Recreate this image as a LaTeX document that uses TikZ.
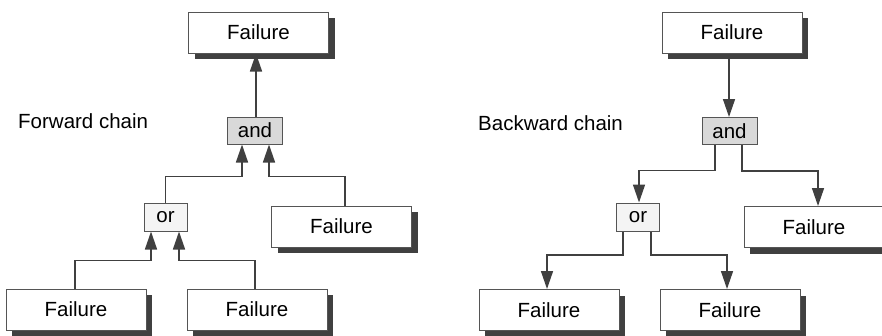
\documentclass[tikz,border=0pt]{standalone}
\usepackage{fontspec}
\setmainfont{Liberation Sans}
\usetikzlibrary{arrows.meta,shadows,calc}
\definecolor{linegray}{HTML}{404040}
\definecolor{framegray}{HTML}{555555}
\definecolor{andfill}{HTML}{D9D9D9}
\definecolor{orfill}{HTML}{F4F4F4}
\begin{document}
\begin{tikzpicture}[x=1pt,y=-1pt,
  font=\fontsize{20.5pt}{24pt}\selectfont,
  failbox/.style={draw=framegray, line width=1pt, fill=white, inner sep=0pt,
    minimum width=140pt, minimum height=41pt,
    drop shadow={shadow xshift=6pt, shadow yshift=-6pt, fill=linegray, opacity=1}},
  andbox/.style={draw=framegray, line width=1pt, fill=andfill, inner sep=0pt,
    minimum width=55pt, minimum height=27pt},
  orbox/.style={draw=framegray, line width=1pt, fill=orfill, inner sep=0pt,
    minimum width=43pt, minimum height=28pt},
  link/.style={draw=linegray, line width=1.5pt,
    -{Triangle[length=18pt,width=12pt]}},
  caption/.style={anchor=base west, inner sep=0pt}]
\useasboundingbox (0,0) rectangle (882,335);

% ---------- forward chain ----------
\node[caption] (fwd) at (18,128) {Forward chain};
\node[failbox] (ftop) at (258.5,32.5) {Failure};
\node[andbox]  (fand) at (255,130.5) {and};
\node[orbox]   (for)  at (165.5,217) {or};
\node[failbox] (fmid) at (341.5,226.5) {Failure};
\node[failbox] (fbl)  at (76,309.5) {Failure};
\node[failbox] (fbm)  at (257,309.5) {Failure};

% attachment points on the box edges
\coordinate (fa0) at ($(fand.north)+(1,0)$);
\coordinate (fa1) at ($(fand.south)+(-13,0)$);
\coordinate (fa2) at ($(fand.south)+(14,0)$);
\coordinate (fo1) at ($(for.south)+(-14.5,0)$);
\coordinate (fo2) at ($(for.south)+(13.5,0)$);
\coordinate (fm0) at ($(fmid.north)+(3.5,0)$);
\coordinate (fl0) at ($(fbl.north)+(-1,0)$);
\coordinate (fr0) at ($(fbm.north)+(-2,0)$);

\draw[link] (fa0) -- (fa0 |- ftop.south);
\draw[link] (for.north) |- ($(fa1)+(0,32)$) -- (fa1);
\draw[link] (fm0) |- ($(fa2)+(0,32)$) -- (fa2);
\draw[link] (fl0) |- ($(fo1)+(0,29)$) -- (fo1);
\draw[link] (fr0) |- ($(fo2)+(0,29)$) -- (fo2);

% ---------- backward chain ----------
\node[caption] (bwd) at (478,130) {Backward chain};
\node[failbox] (btop) at (732,32.5) {Failure};
\node[andbox]  (band) at (729.5,131) {and};
\node[orbox]   (bor)  at (638,217) {or};
\node[failbox] (bmid) at (814,227) {Failure};
\node[failbox] (bbl)  at (549,310) {Failure};
\node[failbox] (bbm)  at (730,310) {Failure};

\coordinate (bt0) at ($(btop.south)+(-3,0)$);
\coordinate (ba1) at ($(band.south)+(-14.5,0)$);
\coordinate (ba2) at ($(band.south)+(12.5,0)$);
\coordinate (bo0) at ($(bor.north)+(1,0)$);
\coordinate (bm0) at ($(bmid.north)+(4,0)$);
\coordinate (bo1) at ($(bor.south)+(-15,0)$);
\coordinate (bo2) at ($(bor.south)+(13,0)$);
\coordinate (bl0) at ($(bbl.north)+(-2,0)$);
\coordinate (br0) at ($(bbm.north)+(-3,0)$);

\draw[link] (bt0) -- (bt0 |- band.north);
\draw[link] (ba1) |- ($(bo0)+(0,-32)$) -- (bo0);
\draw[link] (ba2) |- ($(bm0)+(0,-35)$) -- (bm0);
\draw[link] (bo1) |- ($(bl0)+(0,-34)$) -- (bl0);
\draw[link] (bo2) |- ($(br0)+(0,-34)$) -- (br0);
\end{tikzpicture}
\end{document}
